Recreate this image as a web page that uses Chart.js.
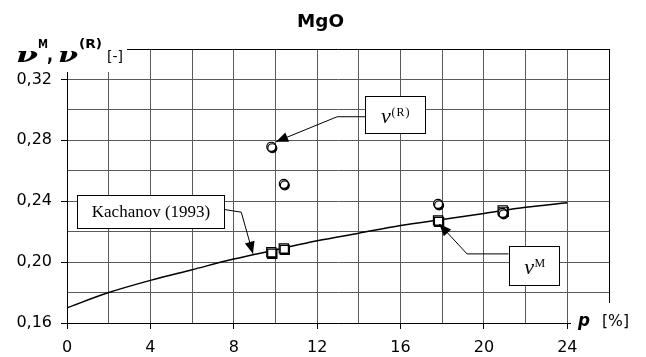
<!DOCTYPE html>
<html>
<head>
<meta charset="utf-8">
<style>
  html, body { margin: 0; padding: 0; background: #fff; overflow: hidden; }
  canvas { display: block; }
</style>
<script src="https://cdn.jsdelivr.net/npm/chart.js@4.4.0/dist/chart.umd.min.js"></script>
</head>
<body>
<canvas id="chart" width="646" height="357"></canvas>
<script>
// Kachanov (1993) model: Poisson ratio vs porosity p [%]
const modelP  = [0, 2, 4, 6, 8, 10, 12, 14, 16, 18, 20, 22, 24];
const modelNu = [0.170, 0.180, 0.188, 0.195, 0.202, 0.208, 0.214, 0.219, 0.224, 0.228, 0.232, 0.236, 0.239];

// nu^M (squares)
const pM  = [9.8, 10.4, 17.8, 20.9];
const nuM = [0.2065, 0.209, 0.2274, 0.234];

// nu^(R) (circles)
const pR  = [9.8, 10.4, 17.8, 20.9];
const nuR = [0.2758, 0.2514, 0.2383, 0.2324];

// axis tick labels
const xTickLabels = ['0', '4', '8', '12', '16', '20', '24'];
const yTickLabels = ['0,16', '0,20', '0,24', '0,28', '0,32'];

const toXY = (xs, ys) => xs.map((x, i) => ({ x: x, y: ys[i] }));

function xLabelFor(v) {
  const i = Math.round(v / 4);
  return (Math.abs(v - i * 4) < 1e-6 && i < xTickLabels.length) ? xTickLabels[i] : '';
}
function yLabelFor(v) {
  const i = Math.round((v - 0.16) / 0.04);
  return (Math.abs(v - 0.16 - i * 0.04) < 1e-6 && i >= 0 && i < yTickLabels.length) ? yTickLabels[i] : '';
}

// callout boxes with leader arrows, in data units
const callouts = [
  { kind: 'nuR', box: [14.3, 0.3094, 17.15, 0.2846],
    path: [[14.3, 0.2955], [12.96, 0.2955], [10.03, 0.2791]] },
  { kind: 'kach', box: [0.48, 0.2438, 7.52, 0.2225],
    path: [[7.52, 0.2346], [8.36, 0.2328], [8.92, 0.2055]] },
  { kind: 'nuM', box: [21.18, 0.2109, 23.62, 0.185],
    path: [[21.18, 0.2054], [19.19, 0.2054], [17.86, 0.2250]] }
];

function fitText(ctx, str, font, left, right, baseline) {
  ctx.save();
  ctx.font = font;
  const w = ctx.measureText(str).width;
  const s = (right - left) / w;
  ctx.translate(left, baseline);
  ctx.scale(s, 1);
  ctx.textAlign = 'left';
  ctx.textBaseline = 'alphabetic';
  ctx.fillStyle = '#000';
  ctx.fillText(str, 0, 0);
  ctx.restore();
}

// drop shadow under the marker datasets
const markerShadow = {
  id: 'markerShadow',
  beforeDatasetDraw(chart, args) {
    if (args.meta.type !== 'scatter') return;
    const ctx = chart.ctx;
    ctx.save();
    ctx.shadowColor = '#000';
    ctx.shadowOffsetX = 1;
    ctx.shadowOffsetY = 1.5;
    ctx.shadowBlur = 0;
  },
  afterDatasetDraw(chart, args) {
    if (args.meta.type !== 'scatter') return;
    chart.ctx.restore();
  }
};

const decorations = {
  id: 'decorations',
  afterDraw(chart) {
    const ctx = chart.ctx;
    const xs = chart.scales.x, ys = chart.scales.y;
    const X = v => xs.getPixelForValue(v), Y = v => ys.getPixelForValue(v);

    // callouts
    callouts.forEach(c => {
      const pts = c.path.map(p => [X(p[0]), Y(p[1])]);
      ctx.save();
      ctx.strokeStyle = '#000';
      ctx.lineWidth = 1;
      ctx.beginPath();
      ctx.moveTo(pts[0][0], pts[0][1]);
      for (let i = 1; i < pts.length; i++) ctx.lineTo(pts[i][0], pts[i][1]);
      ctx.stroke();
      // arrow head
      const a = pts[pts.length - 2], b = pts[pts.length - 1];
      const ang = Math.atan2(b[1] - a[1], b[0] - a[0]);
      const L = 12, W = 5;
      ctx.fillStyle = '#000';
      ctx.beginPath();
      ctx.moveTo(b[0], b[1]);
      ctx.lineTo(b[0] - L * Math.cos(ang) + W * Math.sin(ang), b[1] - L * Math.sin(ang) - W * Math.cos(ang));
      ctx.lineTo(b[0] - L * Math.cos(ang) - W * Math.sin(ang), b[1] - L * Math.sin(ang) + W * Math.cos(ang));
      ctx.closePath();
      ctx.fill();
      // box
      const bx0 = Math.round(X(c.box[0])) + 0.5, by0 = Math.round(Y(c.box[1])) + 0.5;
      const bx1 = Math.round(X(c.box[2])) + 0.5, by1 = Math.round(Y(c.box[3])) + 0.5;
      ctx.fillStyle = '#fff';
      ctx.fillRect(bx0, by0, bx1 - bx0, by1 - by0);
      ctx.strokeRect(bx0, by0, bx1 - bx0, by1 - by0);
      const cx = (bx0 + bx1) / 2, cy = (by0 + by1) / 2;
      ctx.fillStyle = '#000';
      ctx.textBaseline = 'alphabetic';
      if (c.kind === 'kach') {
        ctx.font = '17px "Liberation Serif"';
        ctx.textAlign = 'center';
        ctx.fillText('Kachanov (1993)', cx, cy + 5);
      } else {
        const sup = c.kind === 'nuR' ? '(R)' : 'M';
        ctx.font = 'italic 22px "Liberation Serif"';
        const w1 = ctx.measureText('\u03BD').width;
        ctx.font = '12px "Liberation Serif"';
        if ('letterSpacing' in ctx && c.kind === 'nuR') ctx.letterSpacing = '1px';
        const w2 = ctx.measureText(sup).width;
        const left = cx - (w1 + w2) / 2;
        ctx.textAlign = 'left';
        ctx.font = 'italic 22px "Liberation Serif"';
        ctx.fillText('\u03BD', left, cy + 8);
        ctx.font = '12px "Liberation Serif"';
        ctx.fillText(sup, left + w1 + 0.5, cy + 0.5);
      }
      ctx.restore();
    });

    // y-axis title area
    ctx.save();
    ctx.fillStyle = '#fff';
    ctx.fillRect(0, 0, 127, 72);
    // x-axis title area
    ctx.fillRect(571, 303, 75, 33);
    ctx.restore();

    fitText(ctx, 'MgO', 'bold 17px "DejaVu Sans"', 297, 344, 27);

    fitText(ctx, '\u03BD', 'bold italic 21px "DejaVu Serif"', 16, 38, 62);
    fitText(ctx, 'M', 'bold 13px "DejaVu Sans"', 38, 48, 48);
    fitText(ctx, ',', 'bold 20px "DejaVu Sans"', 47, 53, 61);
    fitText(ctx, '\u03BD', 'bold italic 21px "DejaVu Serif"', 58, 78, 62);
    fitText(ctx, '(R)', 'bold 13px "DejaVu Sans"', 79, 102, 48);
    fitText(ctx, '[-]', '14px "DejaVu Sans"', 107, 123, 61);

    fitText(ctx, 'p', 'bold italic 17px "DejaVu Sans"', 578, 590, 326);
    fitText(ctx, '[%]', '15px "DejaVu Sans"', 602, 629, 326);
  }
};

new Chart(document.getElementById('chart'), {
  data: {
    datasets: [
      {
        type: 'scatter',
        label: 'nuR',
        data: toXY(pR, nuR),
        pointStyle: 'circle',
        pointRadius: 4.5,
        pointBackgroundColor: '#fff',
        pointBorderColor: '#000',
        pointBorderWidth: 1.2,
        clip: false
      },
      {
        type: 'scatter',
        label: 'nuM',
        data: toXY(pM, nuM),
        pointStyle: 'rect',
        pointRadius: 6.5,
        pointBackgroundColor: '#fff',
        pointBorderColor: '#000',
        pointBorderWidth: 1.2,
        clip: false
      },
      {
        type: 'line',
        label: 'Kachanov (1993)',
        data: toXY(modelP, modelNu),
        borderColor: '#000',
        borderWidth: 1.5,
        pointRadius: 0,
        cubicInterpolationMode: 'monotone',
        fill: false
      }
    ]
  },
  options: {
    responsive: false,
    animation: false,
    events: [],
    layout: { padding: { top: 49, right: 37, left: 0, bottom: 0 } },
    plugins: { legend: { display: false }, tooltip: { enabled: false }, title: { display: false } },
    scales: {
      x: {
        type: 'linear',
        min: 0, max: 26,
        afterFit: s => { s.height = 34; },
        ticks: {
          stepSize: 2, autoSkip: false, maxRotation: 0, padding: 9,
          color: '#000',
          font: { family: '"DejaVu Sans"', size: 16 },
          callback: v => xLabelFor(v)
        },
        grid: {
          color: c => (c.tick && (c.tick.value === 26)) ? '#000' : '#5a5a5a',
          lineWidth: 1,
          tickLength: 6,
          tickColor: c => (c.tick && xLabelFor(c.tick.value) !== '') ? '#000' : 'rgba(0,0,0,0)'
        },
        border: { color: '#000', width: 1 }
      },
      y: {
        type: 'linear',
        min: 0.16, max: 0.34,
        afterFit: s => { s.width = 67; },
        ticks: {
          stepSize: 0.02, autoSkip: false, padding: 9,
          color: '#000',
          font: { family: '"DejaVu Sans"', size: 16 },
          callback: v => yLabelFor(v)
        },
        grid: {
          color: c => (c.tick && Math.abs(c.tick.value - 0.34) < 1e-6) ? '#000' : '#5a5a5a',
          lineWidth: 1,
          tickLength: 6,
          tickColor: c => (c.tick && yLabelFor(c.tick.value) !== '') ? '#000' : 'rgba(0,0,0,0)'
        },
        border: { color: '#000', width: 1 }
      }
    }
  },
  plugins: [markerShadow, decorations]
});
</script>
</body>
</html>
